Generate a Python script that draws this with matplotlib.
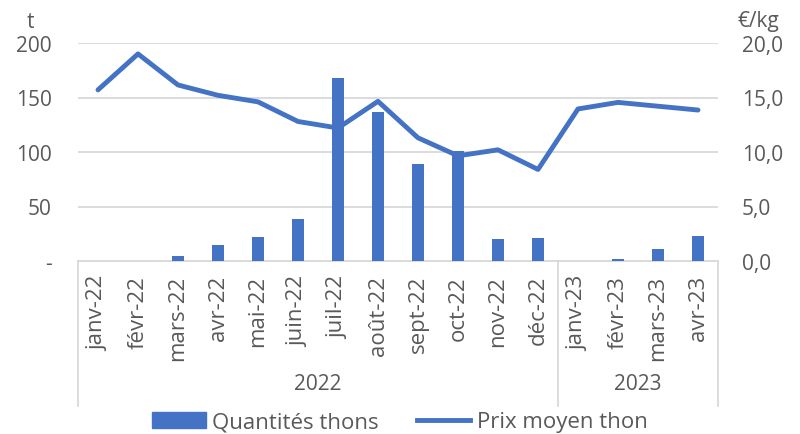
import numpy as np
import matplotlib.pyplot as plt
from matplotlib.lines import Line2D
from matplotlib.patches import Patch

plt.rcParams['font.family'] = ['Open Sans', 'DejaVu Sans']

months = ["janv-22", "févr-22", "mars-22", "avr-22", "mai-22", "juin-22", "juil-22",
          "août-22", "sept-22", "oct-22", "nov-22", "déc-22",
          "janv-23", "févr-23", "mars-23", "avr-23"]
quantites = [0, 0, 5, 15, 22, 38.5, 168, 137, 89, 101, 20, 21, 0, 1.5, 11, 23]
prix = [15.7, 19.0, 16.15, 15.2, 14.6, 12.8, 12.2, 14.65, 11.3, 9.65, 10.2, 8.4,
        13.95, 14.55, 14.2, 13.85]
years = ["2022", "2023"]
year_counts = [12, 4]

blue = "#4472C4"
grey = "#595959"
gridc = "#d9d9d9"

fig = plt.figure(figsize=(8, 4.35), dpi=100)
ax = fig.add_axes([78/800, 1-262/435, 640/800, 218/435])
ax2 = ax.twinx()

x = np.arange(len(months))
ax.bar(x, quantites, width=0.31, color=blue, zorder=3)
ax2.plot(x, prix, color=blue, lw=3.5, solid_capstyle='round', solid_joinstyle='round', zorder=4)

ax.set_xlim(-0.5, len(months)-0.5)
ax.set_ylim(0, 200)
ax2.set_ylim(0, 20)
ax.set_yticks([0, 50, 100, 150, 200])
ax.set_yticklabels(["-", "50", "100", "150", "200"])
ax2.set_yticks([0, 5, 10, 15, 20])
ax2.set_yticklabels([f"{v:.1f}".replace(".", ",") for v in [0, 5, 10, 15, 20]])
ax.grid(axis='y', color=gridc, lw=1.3, zorder=0)
ax.set_axisbelow(True)

for a in (ax, ax2):
    for s in a.spines.values():
        s.set_visible(False)
    a.tick_params(length=0, labelsize=15, labelcolor=grey)
ax.tick_params(axis='y', pad=19)
ax2.tick_params(axis='y', pad=17)
ax.spines['bottom'].set_visible(True)
ax.spines['bottom'].set_color(gridc)
ax.spines['bottom'].set_linewidth(1.3)

ax.set_xticks(x)
ax.set_xticklabels(months, rotation=90, fontsize=16, color=grey, va='top')
ax.tick_params(axis='x', pad=10)

# multi-level category axis
trans = ax.get_xaxis_transform()
bounds = np.concatenate([[0], np.cumsum(year_counts)]) - 0.5
for b in bounds:
    ax.plot([b, b], [0, -0.665], transform=trans, color=gridc, lw=1.3, clip_on=False)
for i, yr in enumerate(years):
    ax.text((bounds[i] + bounds[i+1]) / 2, -0.56, yr, transform=trans,
            ha='center', va='center', fontsize=15, color=grey)

fig.text(30/800, 1-22/435, "t", fontsize=15, color=grey, va='center', ha='center')
fig.text(758/800, 1-22/435, "€/kg", fontsize=15, color=grey, va='center', ha='center')

handles = [Patch(color=blue), Line2D([0], [0], color=blue, lw=3.5)]
fig.legend(handles, ["Quantités thons", "Prix moyen thon"], loc='center',
           bbox_to_anchor=(0.5, 1-423/435), ncol=2, frameon=False, fontsize=16,
           labelcolor=grey, handlelength=2.4, handleheight=0.7, handletextpad=0.3,
           columnspacing=1.7, borderpad=0)

fig.savefig("out.png", dpi=100)
